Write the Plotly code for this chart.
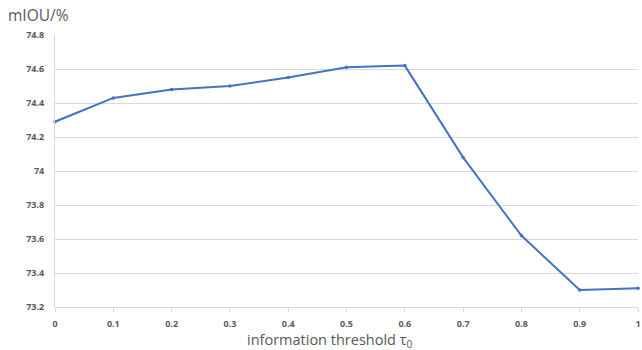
import plotly.graph_objects as go

thresholds = [0, 0.1, 0.2, 0.3, 0.4, 0.5, 0.6, 0.7, 0.8, 0.9, 1.0]
miou = [74.29, 74.43, 74.48, 74.50, 74.55, 74.61, 74.62, 74.08, 73.62, 73.30, 73.31]
x_ticks = [0, 0.1, 0.2, 0.3, 0.4, 0.5, 0.6, 0.7, 0.8, 0.9, 1.0]
x_tick_labels = ["0", "0.1", "0.2", "0.3", "0.4", "0.5", "0.6", "0.7", "0.8", "0.9", "1"]
y_ticks = [73.2, 73.4, 73.6, 73.8, 74.0, 74.2, 74.4, 74.6, 74.8]
y_tick_labels = ["73.2", "73.4", "73.6", "73.8", "74", "74.2", "74.4", "74.6", "74.8"]

fig = go.Figure()
fig.add_trace(go.Scatter(
    x=thresholds, y=miou, mode="lines+markers",
    line=dict(color="#4472C4", width=2),
    marker=dict(color="#4472C4", size=3.5),
    cliponaxis=False,
))

fig.update_layout(
    width=642, height=350,
    margin=dict(l=55, r=1, t=35, b=43),
    paper_bgcolor="white", plot_bgcolor="white",
    showlegend=False,
    font=dict(family="Open Sans, Noto Sans, sans-serif", color="#595959"),
    xaxis=dict(
        range=[0, 1], tickvals=x_ticks, ticktext=x_tick_labels,
        showgrid=False, zeroline=False,
        showline=True, linecolor="#d9d9d9", linewidth=1,
        ticks="outside", ticklen=4, tickcolor="#d9d9d9",
        tickfont=dict(size=9, color="#595959", weight="bold"),
        ticklabelstandoff=4, ticklabeloverflow="allow",
    ),
    yaxis=dict(
        range=[73.2, 74.8], tickvals=y_ticks, ticktext=y_tick_labels,
        showgrid=True, gridcolor="#d9d9d9", gridwidth=1,
        zeroline=False,
        showline=True, linecolor="#d9d9d9", linewidth=1,
        ticks="", tickfont=dict(size=9, color="#595959", weight="bold"),
        ticklabelstandoff=8,
    ),
    annotations=[
        dict(text="mIOU/%", xref="paper", yref="paper", x=-55/586, y=1 + 20/272,
             xanchor="left", yanchor="middle", showarrow=False, xshift=6,
             font=dict(size=15.5, color="#595959")),
        dict(text="information threshold τ<sub>0</sub>", xref="paper", yref="paper",
             x=(331 - 55) / 586, y=-33 / 272, xanchor="center", yanchor="middle",
             showarrow=False, font=dict(size=14.5, color="#595959")),
    ],
)

fig.write_html("out.html", config={"displayModeBar": False},
               post_script="document.body.style.margin='0';document.body.style.overflow='hidden';")
